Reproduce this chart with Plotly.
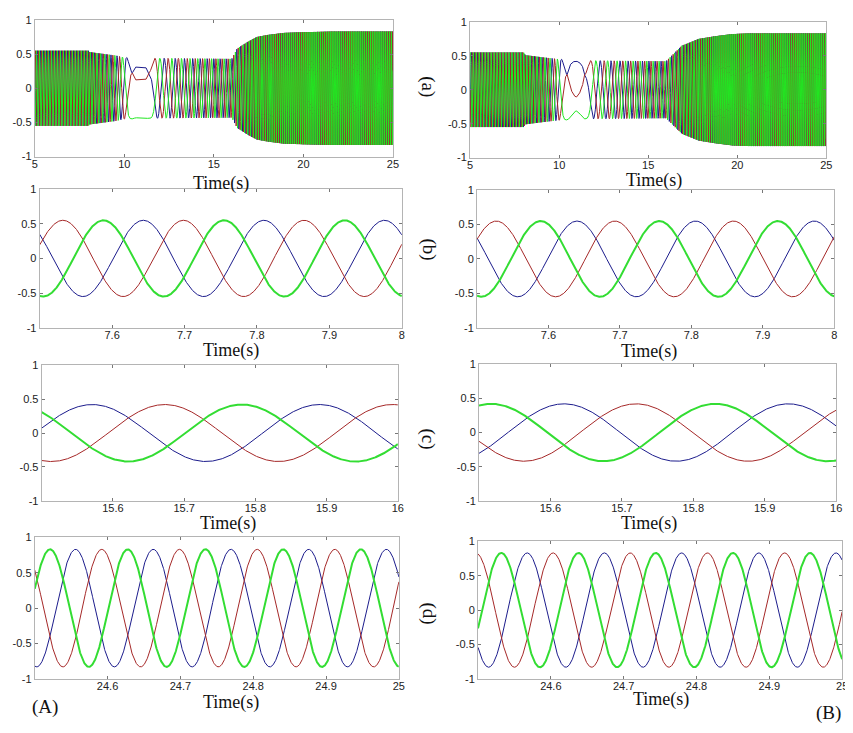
import numpy as np
import plotly.graph_objects as go

W, H = 853, 733
OFF = 8  # the page body margin shifts the figure by this many pixels

# ---------------- data ----------------
# Panel (a): whole record 5-25 s, envelope and frequency knots (left = A, right = B)
A_ENV_T = [5, 8.0, 8.05, 9.5, 10.0, 11.5, 16.0, 16.3, 16.9, 17.4, 18.0, 18.9, 20.0, 21.6, 25]
A_ENV_V = [0.55, 0.55, 0.53, 0.48, 0.45, 0.44, 0.43, 0.58, 0.68, 0.75, 0.78, 0.81, 0.82, 0.83, 0.83]
A_FRQ_T = [5, 8.0, 9.0, 9.9, 10.45, 11.35, 11.8, 13.0, 14.5, 16.0, 16.5, 17.5, 19.0, 20.0, 25]
A_FRQ_V = [6.0, 6.0, 4.0, 1.8, 0.0, 0.0, 1.2, 1.9, 2.6, 3.13, 5.0, 7.5, 8.9, 9.35, 9.37]
A_DEV_T = [10.45, 10.6, 11.2, 11.35]
A_DEV_V = [0, -14, -14, 0]          # degrees, slow-rotation dip

B_ENV_T = [5, 8.0, 8.1, 9.0, 10.0, 11.5, 16.0, 16.9, 17.85, 18.8, 19.7, 20.6, 25]
B_ENV_V = [0.55, 0.55, 0.51, 0.48, 0.45, 0.43, 0.42, 0.65, 0.75, 0.79, 0.82, 0.83, 0.83]
B_FRQ_T = [5, 8.0, 9.0, 9.9, 10.45, 11.4, 11.9, 13.0, 14.5, 16.0, 17.0, 18.0, 19.0, 20.0, 25]
B_FRQ_V = [6.0, 6.0, 4.5, 1.8, 0.0, 0.0, 1.2, 1.9, 2.6, 3.18, 5.5, 7.5, 8.8, 9.4, 9.45]
B_DEV_T = [10.45, 10.6, 10.8, 10.95, 11.1, 11.3, 11.4]
B_DEV_V = [0, -25, -40, -45, -40, -25, 0]

# Zoomed panels: [t_start, t_end, period, amplitude, red peak, green peak, blue peak]
B_ZOOM_L = [7.5, 8.0, 0.1665, 0.55, 7.532, 7.588, 7.643]
B_ZOOM_R = [7.5, 8.0, 0.1660, 0.55, 7.527, 7.589, 7.640]
C_ZOOM_L = [15.5, 16.0, 0.319, 0.42, 15.673, 15.781, 15.571]
C_ZOOM_R = [15.5, 16.0, 0.314, 0.42, 15.720, 15.831, 15.619]
D_ZOOM_L = [24.5, 25.0, 0.1067, 0.83, 24.592, 24.521, 24.556]
D_ZOOM_R = [24.5, 25.0, 0.1060, 0.83, 24.603, 24.532, 24.5675]

A_TICKS = [5, 10, 15, 20, 25]
B_TICKS = [7.6, 7.7, 7.8, 7.9, 8]
C_TICKS = [15.6, 15.7, 15.8, 15.9, 16]
D_TICKS = [24.6, 24.7, 24.8, 24.9, 25]
Y_TICKS = [-1, -0.5, 0, 0.5, 1]
Y_LABELS = ["-1", "-0.5", "0", "0.5", "1"]

COL_BLUE = "#1c1c8c"
COL_RED = "#a52828"
COL_GREEN = "#33dd33"
COL_GREEN_A = "#22e622"

# ---------------- signal construction ----------------
def full_record(env_t, env_v, f_t, f_v, d_t, d_v, t_notch=10.9):
    t = np.arange(5.0, 25.0 + 1e-9, 0.002)
    amp = np.interp(t, env_t, env_v)
    f = np.interp(t, f_t, f_v)
    th = 2 * np.pi * np.concatenate([[0], np.cumsum(f[:-1] * np.diff(t))])
    i = np.argmin(np.abs(t - t_notch))
    th = th + (np.pi + 2 * np.pi / 3 - th[i])  # green at trough in the notch
    th = th + np.deg2rad(np.interp(t, d_t, d_v))
    red = amp * np.cos(th)
    green = amp * np.cos(th - 2 * np.pi / 3)
    blue = amp * np.cos(th - 4 * np.pi / 3)
    return t, red, green, blue

def zoom_record(p):
    t0, t1, per, a, pr, pg, pb = p
    t = np.linspace(t0, t1, 1200)
    return (t, a * np.cos(2 * np.pi * (t - pr) / per),
            a * np.cos(2 * np.pi * (t - pg) / per),
            a * np.cos(2 * np.pi * (t - pb) / per))

def px(x):
    return (x - OFF) / W

def py(y):
    return 1 - (y - OFF) / H

# ---------------- layout geometry (pixels in the final picture) ----------------
panels = [
    (32, 394, 14, 153, full_record(A_ENV_T, A_ENV_V, A_FRQ_T, A_FRQ_V, A_DEV_T, A_DEV_V), [5, 25], A_TICKS),
    (472, 832, 16, 154, full_record(B_ENV_T, B_ENV_V, B_FRQ_T, B_FRQ_V, B_DEV_T, B_DEV_V), [5, 25], A_TICKS),
    (37, 403, 186, 327, zoom_record(B_ZOOM_L), [7.5, 8], B_TICKS),
    (479, 840, 187, 327, zoom_record(B_ZOOM_R), [7.5, 8], B_TICKS),
    (39, 399, 365, 503, zoom_record(C_ZOOM_L), [15.5, 16], C_TICKS),
    (481, 842, 364, 503, zoom_record(C_ZOOM_R), [15.5, 16], C_TICKS),
    (32, 400, 540, 684, zoom_record(D_ZOOM_L), [24.5, 25], D_TICKS),
    (480, 848, 544, 684, zoom_record(D_ZOOM_R), [24.5, 25], D_TICKS),
]

fig = go.Figure()
layout = dict(width=W, height=H, autosize=False, margin=dict(l=0, r=0, t=0, b=0),
              paper_bgcolor="white", plot_bgcolor="white", showlegend=False)

tick_font = dict(family="Liberation Sans, Arial, sans-serif", size=11, color="#222")
for k, (x0, x1, y0, y1, data, xr, xt) in enumerate(panels):
    n = "" if k == 0 else str(k + 1)
    t, red, green, blue = data
    wide = k < 2
    gcol = COL_GREEN_A if wide else COL_GREEN
    for yv, col, wdt in ((blue, COL_BLUE, 1.0), (red, COL_RED, 1.0), (green, gcol, 1.0 if wide else 2.0)):
        fig.add_trace(go.Scatter(x=t, y=yv, mode="lines", line=dict(color=col, width=wdt),
                                 xaxis="x" + n, yaxis="y" + n, hoverinfo="skip"))
    common = dict(showline=True, linecolor="#b4b4b4", linewidth=1, mirror="ticks",
                  ticks="inside", ticklen=3, tickcolor="#777", showgrid=False, zeroline=False,
                  tickfont=tick_font)
    layout["xaxis" + n] = dict(domain=[px(x0), px(x1)], range=xr, tickvals=xt,
                               ticktext=[f"{v:g}" for v in xt], anchor="y" + n,
                               ticklabelstandoff=-3, **common)
    layout["yaxis" + n] = dict(domain=[py(y1), py(y0)], range=[-1, 1], tickvals=Y_TICKS,
                               ticktext=Y_LABELS, anchor="x" + n, **common)

serif = "Liberation Serif, Times New Roman, serif"
ann = []
for (x, y) in [(220, 180), (658, 177), (230, 350), (653, 351), (227, 526), (653, 526), (230, 708), (665, 705)]:
    ann.append(dict(x=px(x), y=py(y), xref="paper", yref="paper", text="Time(s)", showarrow=False,
                    font=dict(family=serif, size=18, color="#111"), xanchor="center", yanchor="middle"))
for lab, y in [("(a)", 82), ("(b)", 247), ("(c)", 440), ("(d)", 617)]:
    ann.append(dict(x=px(430), y=py(y), xref="paper", yref="paper", text=lab, showarrow=False,
                    textangle=90, font=dict(family=serif, size=19, color="#111"),
                    xanchor="center", yanchor="middle"))
ann.append(dict(x=px(42), y=py(713), xref="paper", yref="paper", text="(A)", showarrow=False,
                font=dict(family=serif, size=19, color="#111"), xanchor="center", yanchor="middle"))
ann.append(dict(x=px(834), y=py(719), xref="paper", yref="paper", text="(B)", showarrow=False,
                font=dict(family=serif, size=19, color="#111"), xanchor="center", yanchor="middle"))
layout["annotations"] = ann

fig.update_layout(**layout)
fig.write_html("out.html")
